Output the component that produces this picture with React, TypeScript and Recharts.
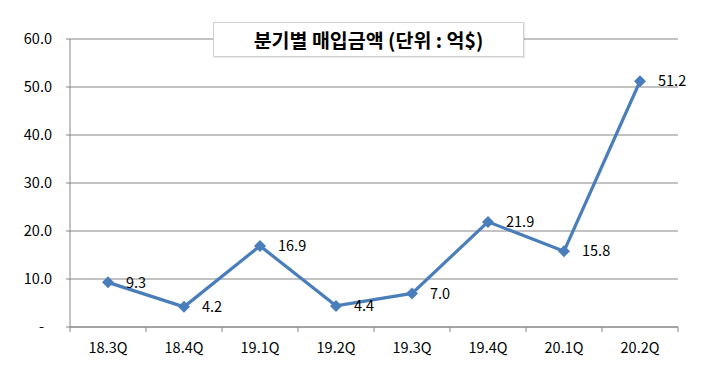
import React from 'react';
import { LineChart, Line, XAxis, YAxis, CartesianGrid, LabelList } from 'recharts';

const quarters = ['18.3Q', '18.4Q', '19.1Q', '19.2Q', '19.3Q', '19.4Q', '20.1Q', '20.2Q'];
const amounts = [9.3, 4.2, 16.9, 4.4, 7.0, 21.9, 15.8, 51.2];
const yTicks = [0, 10, 20, 30, 40, 50, 60];
const title = '분기별 매입금액 (단위 : 억$)';

const W = 720;
const H = 382;
const LEFT = 70;
const RIGHT = 42;
const BAND = (W - LEFT - RIGHT) / quarters.length;
const FONT = '"Noto Sans CJK KR", "Noto Sans", sans-serif';
const BLUE = '#4a7ebb';
const GRID = '#868686';

const data = quarters.map((q, i) => ({ q, v: amounts[i] }));

const Diamond = (props: any) => {
  const { cx, cy } = props;
  if (cx == null || cy == null) return null;
  const r = 6;
  return (
    <polygon
      points={`${cx},${cy - r} ${cx + r},${cy} ${cx},${cy + r} ${cx - r},${cy}`}
      fill={BLUE}
    />
  );
};

const XTick = (props: any) => {
  const { x, y, payload, index } = props;
  const left = x - BAND / 2;
  return (
    <g>
      <line x1={left} y1={y} x2={left} y2={y + 5} stroke={GRID} />
      {index === quarters.length - 1 && (
        <line x1={x + BAND / 2} y1={y} x2={x + BAND / 2} y2={y + 5} stroke={GRID} />
      )}
      <text x={x} y={y + 26} textAnchor="middle" fontSize={14.5} fill="#000" fontFamily={FONT}>
        {payload.value}
      </text>
    </g>
  );
};

const YTick = (props: any) => {
  const { x, y, payload } = props;
  const v = payload.value as number;
  return (
    <text
      x={v === 0 ? x - 8 : x}
      y={y + 5}
      textAnchor="end"
      fontSize={14.5}
      fill="#000"
      fontFamily={FONT}
    >
      {v === 0 ? '-' : v.toFixed(1)}
    </text>
  );
};

export default function App() {
  return (
    <div style={{ position: 'absolute', left: 0, top: 0, width: W, height: H, background: '#fff' }}>
      <LineChart
        width={W}
        height={H}
        data={data}
        margin={{ top: 39, right: RIGHT, bottom: 25, left: 0 }}
      >
        <CartesianGrid vertical={false} stroke={GRID} strokeWidth={1} />
        <XAxis
          dataKey="q"
          height={30}
          stroke={GRID}
          tickLine={false}
          tickSize={0}
          tickMargin={0}
          tick={<XTick />}
          interval={0}
          padding={{ left: BAND / 2, right: BAND / 2 }}
        />
        <YAxis
          width={LEFT}
          domain={[0, 60]}
          ticks={yTicks}
          stroke={GRID}
          tickSize={4}
          tickMargin={14}
          tick={<YTick />}
          interval={0}
        />
        <Line
          dataKey="v"
          stroke={BLUE}
          strokeWidth={3.2}
          dot={<Diamond />}
          activeDot={false}
          isAnimationActive={false}
        >
          <LabelList
            dataKey="v"
            position="right"
            offset={18}
            formatter={(v: any) => Number(v).toFixed(1)}
            style={{ fontSize: 14.5, fill: '#000', fontFamily: FONT }}
          />
        </Line>
      </LineChart>
      <div
        style={{
          position: 'absolute',
          left: 213,
          top: 22,
          width: 311,
          height: 35,
          background: '#fff',
          border: '1px solid #d0d0d0',
          boxShadow: '1px 1px 1px rgba(0,0,0,0.08)',
          boxSizing: 'border-box',
          display: 'flex',
          alignItems: 'center',
          justifyContent: 'center',
          fontFamily: FONT,
          fontWeight: 700,
          fontSize: 19.5,
          color: '#000',
        }}
      >
        {title}
      </div>
    </div>
  );
}
